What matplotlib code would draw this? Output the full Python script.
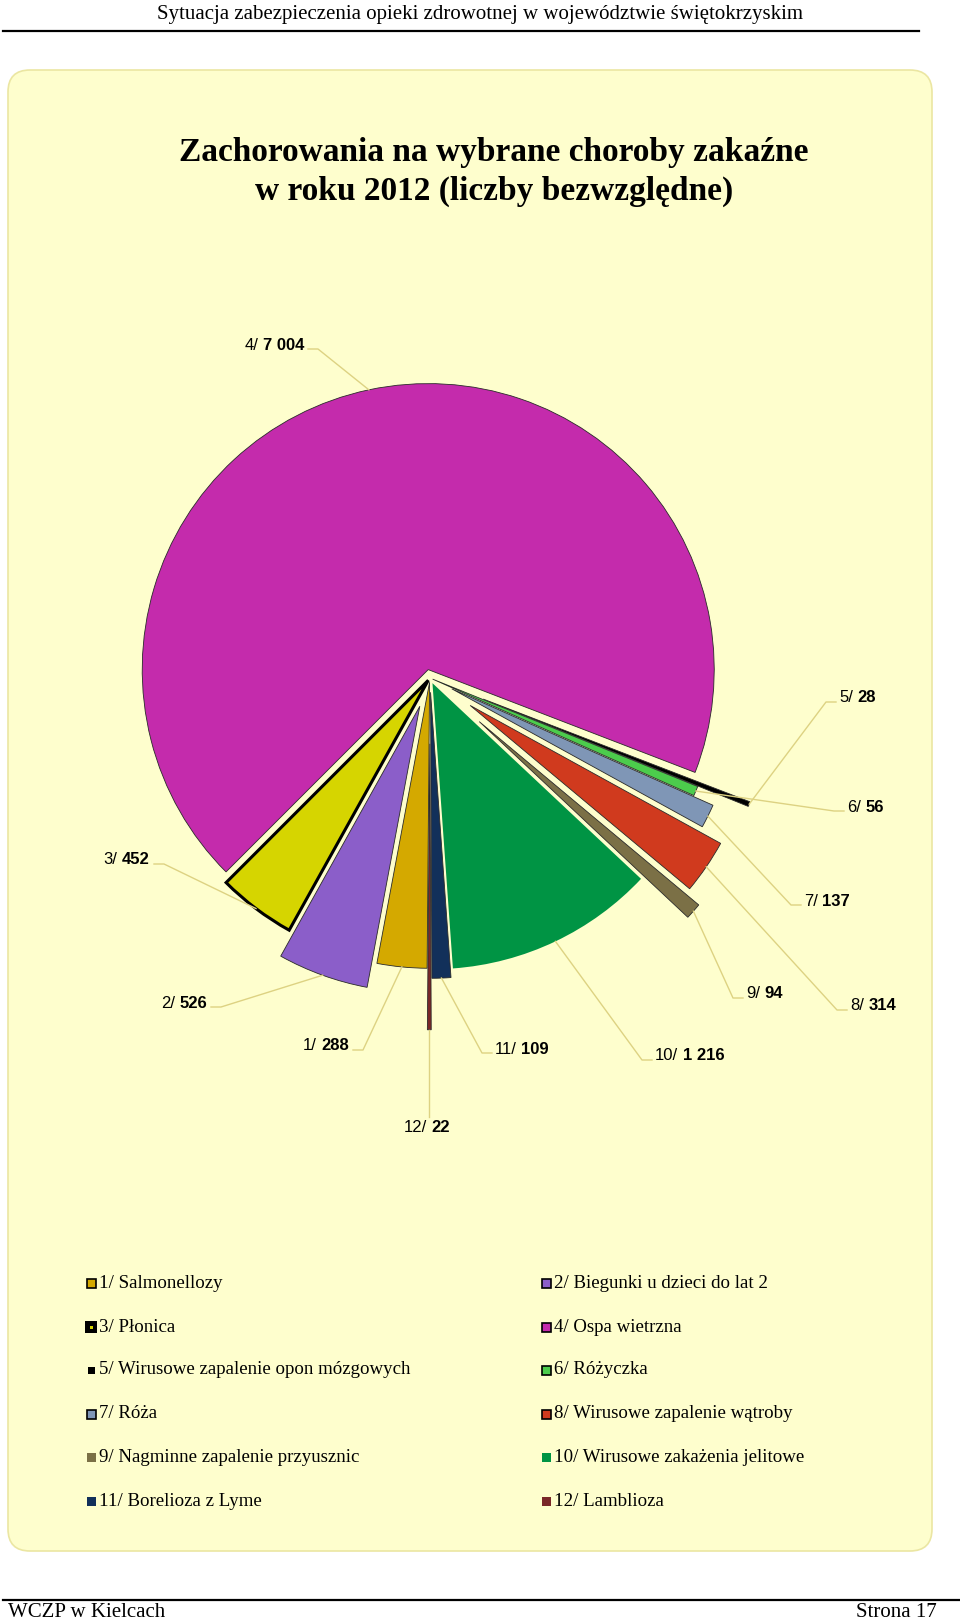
import matplotlib.pyplot as plt
import numpy as np
from matplotlib.patches import FancyBboxPatch, Rectangle

W, H = 960, 1623

# data (cases in 2012, absolute numbers)
numbers = [1, 2, 3, 4, 5, 6, 7, 8, 9, 10, 11, 12]
names = ['Salmonellozy', 'Biegunki u dzieci do lat 2', 'Płonica', 'Ospa wietrzna',
         'Wirusowe zapalenie opon mózgowych', 'Różyczka', 'Róża',
         'Wirusowe zapalenie wątroby', 'Nagminne zapalenie przyusznic',
         'Wirusowe zakażenia jelitowe', 'Borelioza z Lyme', 'Lamblioza']
cases = [288, 526, 452, 7004, 28, 56, 137, 314, 94, 1216, 109, 22]
colors = ['#d4a900', '#8b5ec9', '#d6d500', '#c42bac', '#000000', '#4ccc4c',
          '#7f96b6', '#d03a1e', '#7b7046', '#009444', '#12305a', '#7a2828']
explode = [0.015, 0.105, 0.01, 0.03, 0.2, 0.01, 0.085, 0.17, 0.23, 0.02, 0.05, 0.23]

title = 'Zachorowania na wybrane choroby zakaźne\nw roku 2012 (liczby bezwzględne)'
header = 'Sytuacja zabezpieczenia opieki zdrowotnej w województwie świętokrzyskim'
footer_left = 'WCZP w Kielcach'
footer_right = 'Strona 17'

# layout (pixel coordinates, y measured from the top)
CX, CY, R = 430, 678, 286
label_pos = [(349, 1046, 'left'), (207, 1003, 'left'), (150, 860, 'left'),
             (304, 345, 'left'), (839, 698, 'right'), (847, 807, 'right'),
             (804, 901, 'right'), (850, 1006, 'right'), (746, 994, 'right'),
             (655, 1056, 'right'), (495, 1049, 'right'), (404, 1128, 'below')]
leg_x = [91, 546]
leg_y = [1283, 1327, 1370, 1414, 1457, 1501]

lab_font = dict(family='Liberation Sans', fontsize=12)
serif = 'Liberation Serif'
lead_col = '#ddd282'


def up(y):
    return H - y


fig = plt.figure(figsize=(W / 100, H / 100), dpi=100)
ax = fig.add_axes([0, 0, 1, 1])

# page frame
ax.add_patch(FancyBboxPatch((8, up(1551)), 924, 1481,
                            boxstyle='round,pad=0,rounding_size=22',
                            fc='#fefecd', ec='#ebe6a2', lw=1.2, zorder=0))
ax.plot([3, 919], [up(31), up(31)], color='black', lw=1.6)
ax.plot([3, 960], [up(1600), up(1600)], color='black', lw=1.6)
ax.text(480, up(15), header, family=serif, fontsize=15, ha='center', va='center')
ax.text(8, up(1622), footer_left, family=serif, fontsize=15, ha='left', va='bottom')
ax.text(937, up(1622), footer_right, family=serif, fontsize=15, ha='right', va='bottom')

ax.text(494, up(172), title, family=serif, fontsize=24, fontweight='bold',
        ha='center', va='center', linespacing=1.3)

# pie
wedges, _ = ax.pie(cases, colors=colors, explode=[e * R for e in explode],
                   radius=R, center=(CX, up(CY)), startangle=269.5,
                   counterclock=False,
                   wedgeprops=dict(edgecolor='#2a2a2a', linewidth=0.6))
wedges[2].set_edgecolor('black')
wedges[2].set_linewidth(2.2)
wedges[9].set_linewidth(0)

for w, (lx, ly, side), num, val in zip(wedges, label_pos, numbers, cases):
    mid = np.deg2rad((w.theta1 + w.theta2) / 2)
    axx = w.center[0] + w.r * np.cos(mid)
    axy = w.center[1] + w.r * np.sin(mid)
    value = f'{val:,}'.replace(',', ' ')
    if side == 'left':
        b = ax.text(lx, up(ly), value, ha='right', va='center',
                    fontweight='bold', **lab_font)
        ax.annotate(f'{num}/', xy=(0, 0), xycoords=b, xytext=(-3.3, 0),
                    textcoords='offset points', ha='right', va='bottom', **lab_font)
        ax.plot([lx + 4, lx + 14, axx], [up(ly + 4), up(ly + 4), axy],
                color=lead_col, lw=1.0, zorder=1)
    else:
        n = ax.text(lx, up(ly), f'{num}/', ha='left', va='center', **lab_font)
        ax.annotate(value, xy=(1, 0), xycoords=n, xytext=(3.3, 0),
                    textcoords='offset points', ha='left', va='bottom',
                    fontweight='bold', **lab_font)
        if side == 'right':
            ax.plot([lx - 3, lx - 13, axx], [up(ly + 4), up(ly + 4), axy],
                    color=lead_col, lw=1.0, zorder=1)
        else:
            ax.plot([axx, axx], [axy, up(ly - 11)], color=lead_col, lw=1.0, zorder=1)

# legend
for i, (num, name, col) in enumerate(zip(numbers, names, colors)):
    x = leg_x[i % 2]
    y = leg_y[i // 2]
    if i == 2:
        ax.add_patch(Rectangle((x - 6, up(y) - 6), 12, 12, fc='black', ec='black', lw=0))
        ax.add_patch(Rectangle((x - 1.5, up(y) - 1.5), 3, 3, fc=col, lw=0))
    elif i == 4:
        ax.add_patch(Rectangle((x - 3.5, up(y) - 3.5), 7, 7, fc=col, lw=0))
    else:
        edge = 'black' if i in (0, 1, 3, 5, 6, 7) else 'none'
        ax.add_patch(Rectangle((x - 4.5, up(y) - 4.5), 9, 9, fc=col, ec=edge, lw=1.2))
    ax.text(x + 8, up(y), f'{num}/ {name}', family=serif, fontsize=13.6,
            ha='left', va='center')

ax.set_xlim(0, W)
ax.set_ylim(0, H)
ax.set_aspect('auto')
ax.axis('off')

fig.savefig('out.png', dpi=100, facecolor='white')
